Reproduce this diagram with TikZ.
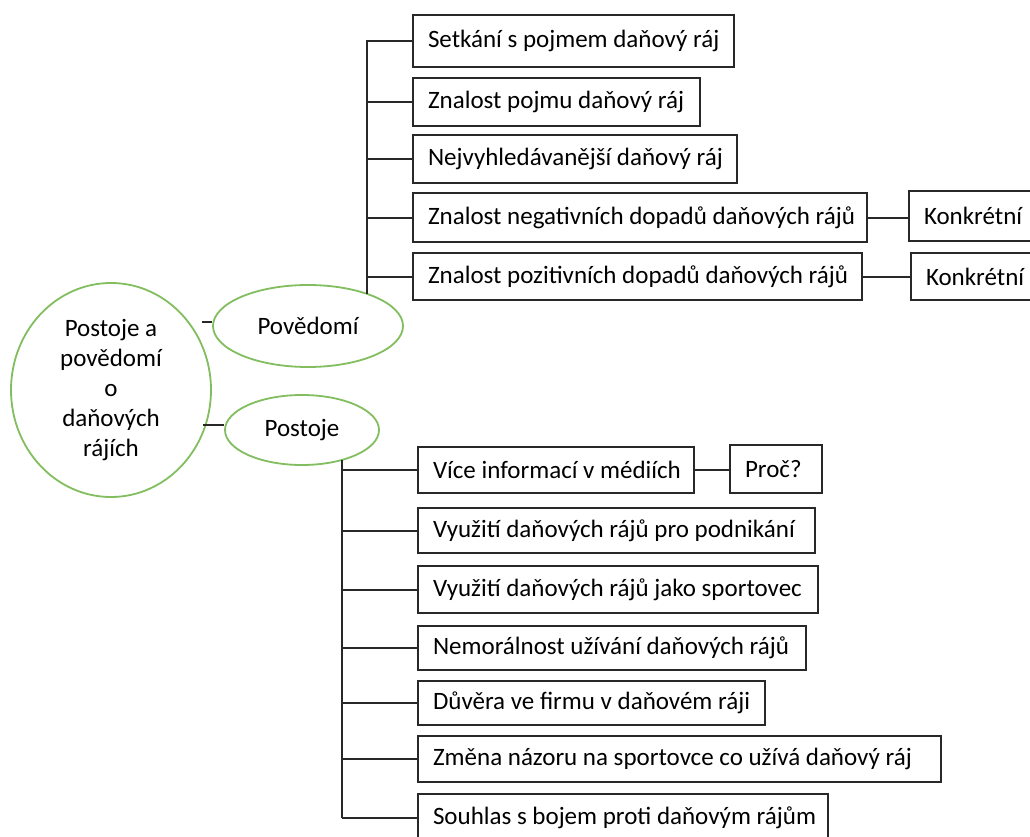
\documentclass[tikz,border=0pt]{standalone}
\usepackage{fontspec}
\setmainfont{Carlito}
\usetikzlibrary{shapes.geometric}
\definecolor{ellgreen}{RGB}{130,190,95}
\definecolor{boxline}{RGB}{40,40,40}
\tikzset{
  every node/.style={font=\fontsize{25}{30}\selectfont},
  ell/.style={ellipse, draw=ellgreen, line width=1.8pt, inner sep=0pt, align=center},
  itembox/.style={draw=boxline, line width=2pt, anchor=west, inner xsep=15pt, inner ysep=0pt},
  conn/.style={draw=boxline, line width=2pt},
}
\newcommand{\ibox}[6]{% name, xleft, ytop, xright, ybottom, text
  \pgfmathsetmacro{\bw}{#4-#2-30}
  \pgfmathsetmacro{\bh}{#5-#3}
  \pgfmathsetmacro{\bc}{(#3+#5)/2}
  \node[itembox, minimum height=\bh pt] (#1) at (#2,\bc) {\makebox[\bw pt][l]{#6}};
}
\begin{document}
\begin{tikzpicture}[x=1pt,y=-1pt]
\useasboundingbox (0,0) rectangle (1030,837);
\clip (0,0) rectangle (1030,837);
\fill[white] (0,0) rectangle (1030,837);

% ellipses
\node[ell, minimum width=200pt, minimum height=214pt] (root) at (111,390) {Postoje a\\povědomí\\o\\daňových\\rájích};
\node[ell, minimum width=190pt, minimum height=82pt] (pov) at (308,326) {Povědomí};
\node[ell, minimum width=154pt, minimum height=70pt] (pos) at (302,430) {Postoje};

\coordinate (rp) at (202,322);
\draw[conn] (rp) -- (rp -| pov.west);
\coordinate (rq) at (203,425);
\draw[conn] (rq) -- (rq -| pos.west);

% top group
\ibox{t1}{412}{15}{733}{67}{Setkání s pojmem daňový ráj}
\ibox{t2}{412}{78}{699}{126}{Znalost pojmu daňový ráj}
\ibox{t3}{412}{135}{736}{183}{Nejvyhledávanější daňový ráj}
\ibox{t4}{412}{193}{866}{242}{Znalost negativních dopadů daňových rájů}
\ibox{t5}{412}{253}{861}{300}{Znalost pozitivních dopadů daňových rájů}
\ibox{k1}{908}{191}{1060}{241}{Konkrétní}
\ibox{k2}{910}{253}{1060}{300}{Konkrétní}

\coordinate (ttop) at (367,40);
\coordinate (tbot) at (367,294);
\draw[conn] (ttop) -- (tbot);
\foreach \n in {t1,t2,t3,t4,t5} {
  \draw[conn] (ttop |- \n.west) -- (\n.west);
}
\draw[conn] (t4.east) -- (t4.east -| k1.west);
\draw[conn] (t5.east) -- (t5.east -| k2.west);

% bottom group
\ibox{b1}{417}{447}{693}{493}{Více informací v médiích}
\ibox{p1}{729}{445}{821}{493}{Proč?}
\ibox{b2}{417}{508}{814}{553}{Využití daňových rájů pro podnikání}
\ibox{b3}{417}{566}{817}{613}{Využití daňových rájů jako sportovec}
\ibox{b4}{417}{626}{805}{670}{Nemorálnost užívání daňových rájů}
\ibox{b5}{417}{681}{764}{725}{Důvěra ve firmu v daňovém ráji}
\ibox{b6}{417}{736}{940}{782}{Změna názoru na sportovce co užívá daňový ráj}
\ibox{b7}{417}{794}{827}{842}{Souhlas s bojem proti daňovým rájům}

\coordinate (btop) at (342,460);
\coordinate (bbot) at (342,818);
\draw[conn] (btop) -- (bbot);
\foreach \n in {b1,b2,b3,b4,b5,b6,b7} {
  \draw[conn] (btop |- \n.west) -- (\n.west);
}
\draw[conn] (b1.east) -- (b1.east -| p1.west);
\end{tikzpicture}
\end{document}
